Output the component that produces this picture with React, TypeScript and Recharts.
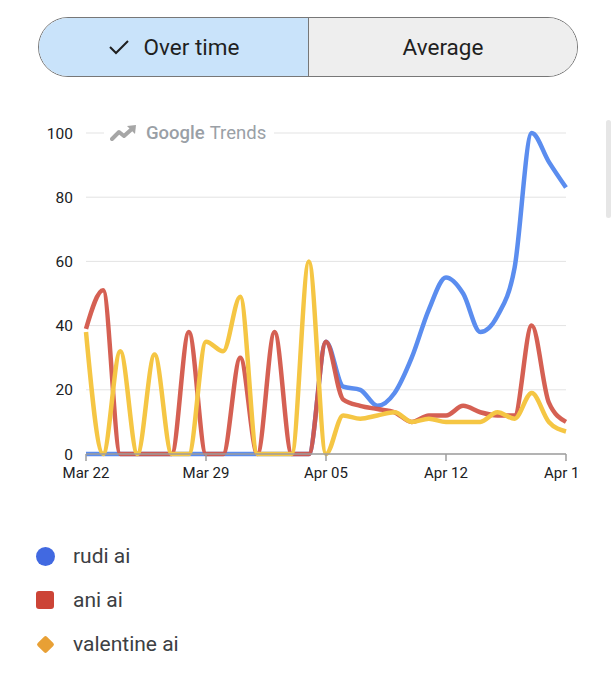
import React from 'react';
import { LineChart, Line, XAxis, YAxis, CartesianGrid } from 'recharts';

const dates = [
  'Mar 22', 'Mar 23', 'Mar 24', 'Mar 25', 'Mar 26', 'Mar 27', 'Mar 28',
  'Mar 29', 'Mar 30', 'Mar 31', 'Apr 01', 'Apr 02', 'Apr 03', 'Apr 04',
  'Apr 05', 'Apr 06', 'Apr 07', 'Apr 08', 'Apr 09', 'Apr 10', 'Apr 11',
  'Apr 12', 'Apr 13', 'Apr 14', 'Apr 15', 'Apr 16', 'Apr 17', 'Apr 18',
  'Apr 19',
];

const rudiAi = [0, 0, 0, 0, 0, 0, 0, 0, 0, 0, 0, 0, 0, 0, 35, 21, 20, 15, 19, 30, 45, 55, 50, 38, 43, 58, 100, 91, 83];
const aniAi = [39, 51, 0, 0, 0, 0, 38, 0, 0, 30, 0, 38, 0, 0, 35, 17, 15, 14, 13, 10, 12, 12, 15, 13, 12, 12, 40, 16, 10];
const valentineAi = [38, 0, 32, 0, 31, 0, 0, 35, 32, 49, 0, 0, 0, 60, 0, 12, 11, 12, 13, 10, 11, 10, 10, 10, 13, 11, 19, 10, 7];

const yTicks = [0, 20, 40, 60, 80, 100];

const seriesNames = ['rudi ai', 'ani ai', 'valentine ai'];

const data = dates.map((d, i) => ({
  date: d,
  rudi: rudiAi[i],
  ani: aniAi[i],
  valentine: valentineAi[i],
}));

const FONT = 'Roboto, "Noto Sans", Arial, sans-serif';

export default function App() {
  return (
    <div
      style={{
        position: 'absolute',
        left: 0,
        top: 0,
        width: 615,
        height: 680,
        background: '#fff',
        overflow: 'hidden',
        fontFamily: FONT,
      }}
    >
      {/* toggle */}
      <div
        style={{
          position: 'absolute',
          left: 38,
          top: 17,
          width: 538,
          height: 58,
          border: '1.5px solid #777',
          borderRadius: 30,
          overflow: 'hidden',
          display: 'flex',
        }}
      >
        <div
          style={{
            width: 269,
            height: '100%',
            background: '#c9e3fa',
            display: 'flex',
            alignItems: 'center',
            justifyContent: 'center',
            color: '#1f1f1f',
            fontSize: 22.5,
            borderRight: '1px solid #777',
          }}
        >
          <svg width="22" height="18" viewBox="0 0 22 18" style={{ marginRight: 14 }}>
            <polyline points="2,9 8,15 20,3" fill="none" stroke="#1f1f1f" strokeWidth="2" />
          </svg>
          <span>Over time</span>
        </div>
        <div
          style={{
            flex: 1,
            height: '100%',
            background: '#eeeeee',
            display: 'flex',
            alignItems: 'center',
            justifyContent: 'center',
            color: '#1f1f1f',
            fontSize: 22.5,
          }}
        >
          Average
        </div>
      </div>

      {/* scrollbar hint */}
      <div
        style={{
          position: 'absolute',
          left: 606,
          top: 120,
          width: 5,
          height: 98,
          background: '#e6e6e6',
          borderRadius: 3,
        }}
      />

      {/* chart */}
      <div style={{ position: 'absolute', left: 0, top: 100 }}>
        <LineChart
          width={580}
          height={400}
          data={data}
          margin={{ top: 33, right: 14, bottom: 16, left: 0 }}
        >
          <CartesianGrid horizontal vertical={false} stroke="#e3e3e3" strokeWidth={1} />
          <XAxis
            dataKey="date"
            interval={6}
            height={30}
            axisLine={{ stroke: '#9e9e9e', strokeWidth: 1.5 }}
            tickLine={{ stroke: '#9e9e9e', strokeWidth: 1.5 }}
            tickSize={7}
            tickMargin={6}
            tick={{ fill: '#202124', fontSize: 15, fontFamily: FONT }}
          />
          <YAxis
            width={86}
            domain={[0, 100]}
            ticks={yTicks}
            axisLine={false}
            tickLine={false}
            tickSize={0}
            tickMargin={13}
            tick={{ fill: '#202124', fontSize: 15.5, fontFamily: FONT }}
          />
          <Line
            type="monotone"
            dataKey="rudi"
            name={seriesNames[0]}
            stroke="#5b8def"
            strokeWidth={4.5}
            dot={false}
            activeDot={false}
            isAnimationActive={false}
          />
          <Line
            type="monotone"
            dataKey="ani"
            name={seriesNames[1]}
            stroke="#d3574a"
            strokeOpacity={0.95}
            strokeWidth={4.5}
            dot={false}
            activeDot={false}
            isAnimationActive={false}
          />
          <Line
            type="monotone"
            dataKey="valentine"
            name={seriesNames[2]}
            stroke="#f5c644"
            strokeWidth={4.5}
            dot={false}
            activeDot={false}
            isAnimationActive={false}
          />
        </LineChart>
      </div>

      {/* Google Trends watermark */}
      <div
        style={{
          position: 'absolute',
          left: 104,
          top: 120,
          height: 26,
          padding: '0 8px 0 6px',
          background: '#fff',
          display: 'flex',
          alignItems: 'center',
          color: '#9aa0a6',
          fontSize: 18.5,
        }}
      >
        <svg width="28" height="18" viewBox="0 0 28 18" style={{ marginRight: 8 }}>
          <polyline points="2,15 9,8 14,12 23,4" fill="none" stroke="#a6a6a6" strokeWidth="4" strokeLinejoin="round" strokeLinecap="round" />
          <polygon points="17,2 26,1 25,10" fill="#a6a6a6" />
        </svg>
        <span style={{ fontWeight: 500 }}>Google</span>
        <span style={{ marginLeft: 5 }}>Trends</span>
      </div>

      {/* legend */}
      <div style={{ position: 'absolute', left: 36, top: 540, color: '#3c4043', fontSize: 21 }}>
        <div style={{ display: 'flex', alignItems: 'center', height: 32, marginBottom: 12 }}>
          <div style={{ width: 19, height: 19, borderRadius: '50%', background: '#4169e1' }} />
          <span style={{ marginLeft: 18 }}>{seriesNames[0]}</span>
        </div>
        <div style={{ display: 'flex', alignItems: 'center', height: 32, marginBottom: 12 }}>
          <div style={{ width: 18, height: 18, borderRadius: 3, background: '#cc4436' }} />
          <span style={{ marginLeft: 19 }}>{seriesNames[1]}</span>
        </div>
        <div style={{ display: 'flex', alignItems: 'center', height: 32 }}>
          <div style={{ width: 19, height: 19, display: 'flex', alignItems: 'center', justifyContent: 'center' }}>
            <div style={{ width: 13, height: 13, background: '#e8a035', transform: 'rotate(45deg)', borderRadius: 2 }} />
          </div>
          <span style={{ marginLeft: 18 }}>{seriesNames[2]}</span>
        </div>
      </div>
    </div>
  );
}
